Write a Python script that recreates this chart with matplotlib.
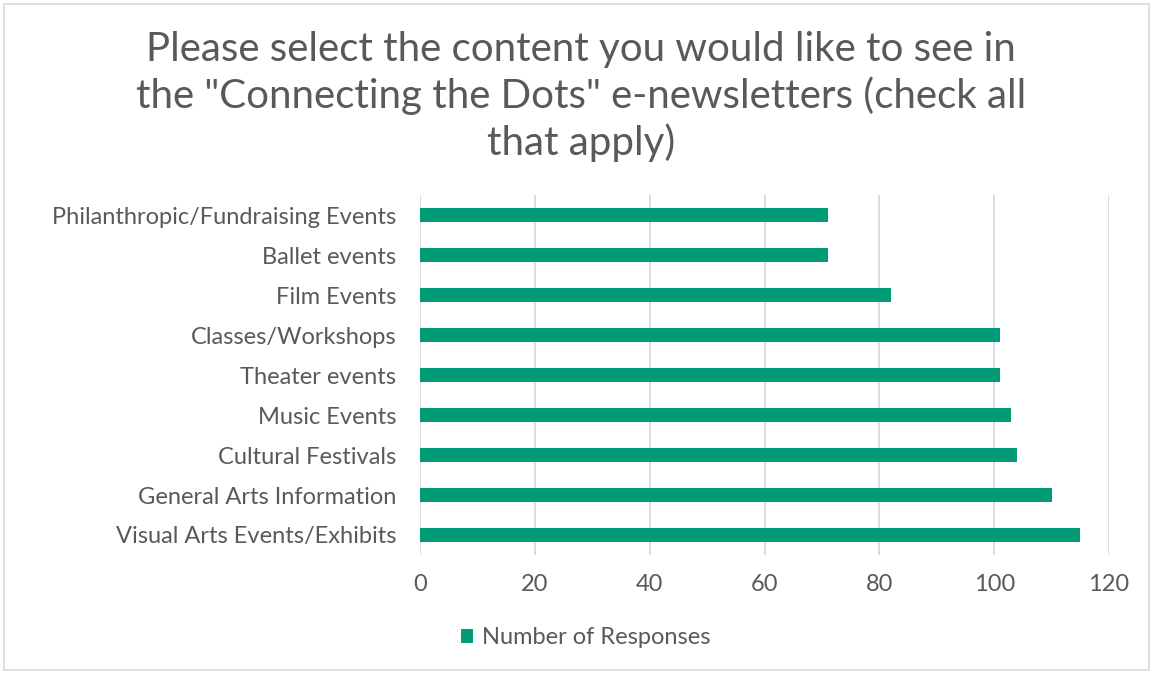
import matplotlib.pyplot as plt
from matplotlib.patches import Rectangle

categories = ['Visual Arts Events/Exhibits', 'General Arts Information', 'Cultural Festivals',
              'Music Events', 'Theater events', 'Classes/Workshops', 'Film Events',
              'Ballet events', 'Philanthropic/Fundraising Events']
responses = [115, 110, 104, 103, 101, 101, 82, 71, 71]
xticks = [0, 20, 40, 60, 80, 100, 120]
series_name = 'Number of Responses'
title = 'Please select the content you would like to see in\nthe "Connecting the Dots" e-newsletters (check all\nthat apply)'

plt.rcParams['font.family'] = ['Lato', 'DejaVu Sans']
text_color = '#595959'
bar_color = '#009B77'

fig = plt.figure(figsize=(11.53, 6.74), dpi=100)
ax = fig.add_axes([420 / 1153, 1 - 555 / 674, 689 / 1153, 360 / 674])

ax.barh(range(len(categories)), responses, height=0.35, color=bar_color, label=series_name, zorder=3)
ax.set_xlim(0, 120)
ax.set_ylim(-0.5, len(categories) - 0.5)
ax.set_xticks(xticks)
ax.set_yticks(range(len(categories)))
ax.set_yticklabels(categories)
ax.tick_params(axis='both', length=0, labelsize=17, colors=text_color)
ax.tick_params(axis='x', pad=14)
ax.tick_params(axis='y', pad=17)
ax.grid(axis='x', color='#d9d9d9', linewidth=1.3, zorder=0)
for s in ax.spines.values():
    s.set_visible(False)

fig.text(0.504, 0.857, title, ha='center', va='center', fontsize=29, color=text_color,
         linespacing=1.26)

fig.legend(loc='center', bbox_to_anchor=(586 / 1153, 1 - 638 / 674), frameon=False,
           fontsize=17, labelcolor=text_color, handlelength=0.5, handleheight=0.5,
           handletextpad=0.4)

fig.patches.append(Rectangle((4 / 1153, 4 / 674), 1145 / 1153, 666 / 674, transform=fig.transFigure,
                             fill=False, edgecolor='#d9d9d9', linewidth=1.2))

plt.savefig('out.png', dpi=100)
